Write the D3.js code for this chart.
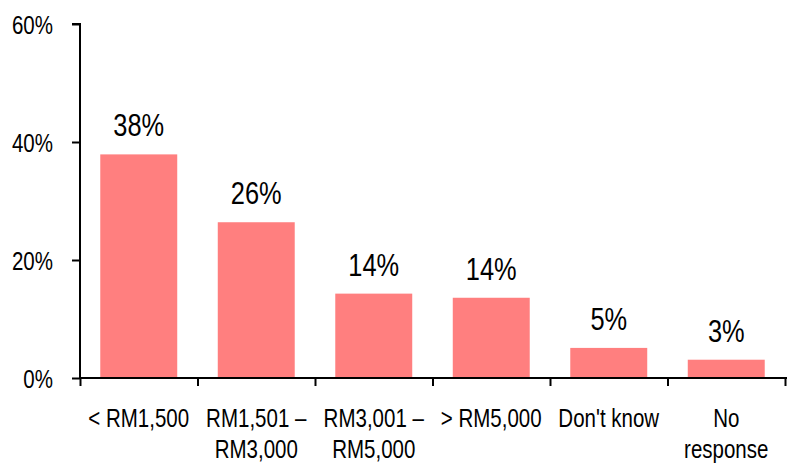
<!DOCTYPE html>
<html>
<head>
<meta charset="utf-8">
<script src="https://cdn.jsdelivr.net/npm/d3@7"></script>
<style>
  body { margin: 0; background: #fff; }
  text { font-family: "Liberation Sans", Arial, sans-serif; fill: #000; }
</style>
</head>
<body>
<div id="main-container"></div>
<script>
var width = 789,
    height = 469

// data
var categories = [["< RM1,500"], ["RM1,501 –", "RM3,000"], ["RM3,001 –", "RM5,000"], ["> RM5,000"], ["Don't know"], ["No", "response"]]
var values = [37.9, 26.4, 14.3, 13.6, 5.1, 3.1]
var valueLabels = ["38%", "26%", "14%", "14%", "5%", "3%"]
var yTicks = [0, 20, 40, 60]

var mLeft = 80, mRight = 785, mTop = 24, mBottom = 378
var narrow = 0.82 // no narrow font installed, squeeze the glyphs

var svg = d3.select("#main-container").append("svg")
  .attr("width", width)
  .attr("height", height)

var x = d3.scaleBand()
  .domain(d3.range(categories.length))
  .range([mLeft, mRight])
  .paddingInner(0.345)
  .paddingOuter(0.1725)

var y = d3.scaleLinear()
  .domain([0, 60])
  .range([mBottom, mTop])

// bars
svg.selectAll(".bar")
  .data(values)
  .enter()
  .append("rect")
  .attr("class", "bar")
  .attr("x", function(d, i){ return x(i) })
  .attr("width", x.bandwidth())
  .attr("y", function(d){ return y(d) })
  .attr("height", function(d){ return y(0) - y(d) })
  .attr("fill", "#ff7f7f")

// value labels
svg.selectAll(".val")
  .data(values)
  .enter()
  .append("text")
  .attr("class", "val")
  .attr("text-anchor", "middle")
  .attr("transform", function(d, i){
    return "translate(" + (x(i) + x.bandwidth()/2) + "," + (y(d) - 18) + ") scale(" + narrow + ",1)"
  })
  .style("font-size", "31px")
  .text(function(d, i){ return valueLabels[i] })

// y axis
var yAxis = svg.append("g")
  .attr("transform", "translate(" + mLeft + ",0)")
  .call(d3.axisLeft(y).tickValues(yTicks).tickSize(8).tickPadding(19)
    .tickFormat(function(d){ return d + "%" }))
yAxis.select(".domain").attr("stroke-width", 2).attr("stroke", "#000").attr("d", "M-8," + mTop + "H0V" + mBottom)
yAxis.selectAll("line").attr("stroke-width", 2).attr("stroke", "#000")
yAxis.selectAll("text")
  .style("font-size", "25px")
  .attr("dy", "0.36em")
  .attr("transform", function(){
    var tx = +d3.select(this).attr("x")
    return "translate(" + tx + ",0) scale(" + narrow + ",1)"
  })
  .attr("x", 0)

// x axis: ticks on category boundaries
var xb = d3.scaleLinear().domain([0, categories.length]).range([mLeft, mRight])
var xAxis = svg.append("g")
  .attr("transform", "translate(0," + mBottom + ")")
  .call(d3.axisBottom(xb).tickValues(d3.range(categories.length + 1)).tickSize(8).tickFormat(""))
xAxis.select(".domain").attr("stroke-width", 2).attr("stroke", "#000").attr("d", "M" + mLeft + ",0H" + (mRight + 2))
xAxis.selectAll("line").attr("stroke-width", 2).attr("stroke", "#000")

// category labels
var cat = svg.selectAll(".cat")
  .data(categories)
  .enter()
  .append("text")
  .attr("class", "cat")
  .attr("text-anchor", "middle")
  .style("font-size", "25px")
  .attr("transform", function(d, i){
    return "translate(" + (x(i) + x.bandwidth()/2) + ",427) scale(" + narrow + ",1)"
  })

cat.selectAll("tspan")
  .data(function(d){ return d })
  .enter()
  .append("tspan")
  .attr("x", 0)
  .attr("y", function(d, j){ return j * 31 })
  .text(function(d){ return d })
</script>
</body>
</html>
